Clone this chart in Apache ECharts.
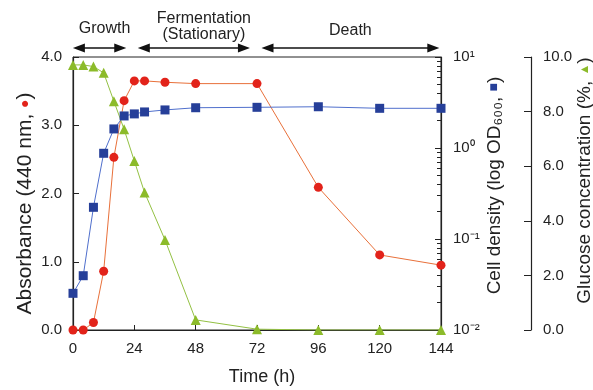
<!DOCTYPE html>
<html>
<head>
<meta charset="utf-8">
<script src="https://cdn.jsdelivr.net/npm/echarts@6/dist/echarts.min.js"></script>
<style>
  html, body { margin: 0; padding: 0; background: #fff; }
  #chart { width: 593px; height: 390px; }
</style>
</head>
<body>
<div id="chart"></div>
<script>
// sampling times (h)
const times = [0, 4, 8, 12, 16, 20, 24, 28, 36, 48, 72, 96, 120, 144];
// absorbance at 440 nm
const absorbance = [0, 0, 0.11, 0.86, 2.53, 3.36, 3.65, 3.65, 3.63, 3.61, 3.61, 2.09, 1.10, 0.95];
// cell density, OD600 (log axis)
const cellDensity = [0.0253, 0.0395, 0.223, 0.875, 1.62, 2.25, 2.37, 2.49, 2.62, 2.77, 2.80, 2.84, 2.73, 2.73];
// glucose concentration (%)
const glucose = [9.71, 9.71, 9.65, 9.42, 8.38, 7.35, 6.19, 5.04, 3.30, 0.37, 0.03, 0, 0, 0];
// culture phases along the time axis (arrow ends, h)
const phaseNames = ['Growth', 'Fermentation\n(Stationary)', 'Death'];
const phaseStart = [2.3, 27.7, 76.1];
const phaseEnd = [18.5, 66.9, 141];

const FONT = 'Liberation Sans, Arial, sans-serif';
const RED = '#e2231a', RED_LINE = '#e8703a';
const BLUE = '#263f99', BLUE_LINE = '#4f6fcc';
const GREEN = '#8cbb2a', GREEN_LINE = '#93c043';

const sup = { '-2': '10⁻²', '-1': '10⁻¹', '0': '10⁰', '1': '10¹' };
const minorTicks = [];
for (let n = -2; n < 1; n++) {
    for (let k = 2; k <= 9; k++) minorTicks.push(Math.log10(k) + n);
}

const zip = (ys) => times.map((t, i) => [t, ys[i]]);
const tickStyle = { color: '#222', fontSize: 15, fontFamily: FONT };
const axisLine = { show: true, lineStyle: { color: '#222', width: 1.2 } };
const titleStyle = (size, markColor, markSize, padding) => ({
    padding,
    rich: {
        t: { fontSize: size, color: '#222', fontFamily: FONT },
        m: { fontSize: markSize, color: markColor, fontFamily: FONT }
    }
});

const mChart = echarts.init(document.getElementById('chart'), null, { renderer: 'canvas' });

const option = {
    animation: false,
    grid: [
        { left: 73, top: 57, width: 368, height: 273, outerBoundsMode: 'none', containLabel: false, show: true, borderColor: '#222', borderWidth: 1, backgroundColor: 'transparent' },
        { left: 73, top: 40, width: 368, height: 16, outerBoundsMode: 'none', containLabel: false }
    ],
    xAxis: [
        {
            gridIndex: 0, type: 'value', min: 0, max: 144, interval: 24,
            axisLine,
            axisTick: { inside: true, length: 5, lineStyle: { color: '#222' } },
            axisLabel: { ...tickStyle, margin: 11 },
            splitLine: { show: false },
            name: 'Time (h)', nameLocation: 'middle', nameGap: 38,
            nameTextStyle: { color: '#222', fontSize: 18, fontFamily: FONT, padding: [0, 0, 0, 10] }
        },
        { gridIndex: 1, type: 'value', min: 0, max: 144, show: false }
    ],
    yAxis: [
        {
            gridIndex: 0, type: 'value', position: 'left', min: 0, max: 4, interval: 1,
            axisLine,
            axisTick: { inside: true, length: 6, lineStyle: { color: '#222' } },
            axisLabel: { ...tickStyle, margin: 11, formatter: v => v.toFixed(1) },
            splitLine: { show: false },
            name: '{t|Absorbance (440 nm, }{m|●}{t|)}',
            nameLocation: 'middle', nameRotate: 90, nameGap: 37, nameMoveOverlap: false,
            nameTextStyle: titleStyle(21, RED, 14, [0, 20, 0, 0])
        },
        {
            gridIndex: 0, type: 'log', logBase: 10, position: 'right', min: 0.01, max: 10,
            axisLine,
            axisTick: { inside: true, length: 6, lineStyle: { color: '#222' } },
            axisLabel: { ...tickStyle, margin: 12, formatter: v => sup[String(Math.round(Math.log10(v)))] },
            splitLine: { show: false },
            name: '{t|Cell density (log OD₆₀₀, }{m|■}{t|)}',
            nameLocation: 'middle', nameRotate: 90, nameGap: 44, nameMoveOverlap: false,
            nameTextStyle: titleStyle(19, BLUE, 14, [0, 0, 0, 16])
        },
        {
            // minor log ticks (decade subdivisions) drawn in log10 space
            gridIndex: 0, type: 'value', position: 'right', min: -2, max: 1,
            axisLine: { show: true, lineStyle: { color: 'rgba(0,0,0,0)' } },
            axisTick: { show: true, inside: true, length: 4, customValues: minorTicks, lineStyle: { color: '#222' } },
            axisLabel: { show: false },
            splitLine: { show: false }
        },
        {
            gridIndex: 0, type: 'value', position: 'right', offset: 90, min: 0, max: 10, interval: 2,
            axisLine,
            axisTick: { inside: true, length: 7, lineStyle: { color: '#222' } },
            axisLabel: { ...tickStyle, margin: 12, formatter: v => v.toFixed(1) },
            splitLine: { show: false },
            name: '{t|Glucose concentration (%, }{m|▲}{t|)}',
            nameLocation: 'middle', nameRotate: 90, nameGap: 44, nameMoveOverlap: false,
            nameTextStyle: titleStyle(19, GREEN, 12, [0, 0, 0, 26])
        },
        { gridIndex: 1, type: 'value', min: 0, max: 1, show: false }
    ],
    series: [
        {
            name: 'Absorbance', type: 'line', xAxisIndex: 0, yAxisIndex: 0,
            data: zip(absorbance),
            symbol: 'circle', symbolSize: 9,
            itemStyle: { color: RED },
            lineStyle: { color: RED_LINE, width: 1 }
        },
        {
            name: 'Cell density', type: 'line', xAxisIndex: 0, yAxisIndex: 1,
            data: zip(cellDensity),
            symbol: 'rect', symbolSize: 9,
            itemStyle: { color: BLUE },
            lineStyle: { color: BLUE_LINE, width: 1 }
        },
        {
            name: 'Glucose', type: 'line', xAxisIndex: 0, yAxisIndex: 3,
            data: zip(glucose),
            symbol: 'triangle', symbolSize: 10,
            itemStyle: { color: GREEN },
            lineStyle: { color: GREEN_LINE, width: 1 }
        },
        {
            name: 'Phases', type: 'line', xAxisIndex: 1, yAxisIndex: 4,
            data: [],
            markLine: {
                silent: true,
                symbol: ['triangle', 'triangle'],
                symbolSize: [9, 12],
                lineStyle: { color: '#111', width: 1.5, type: 'solid' },
                label: {
                    show: true, position: 'insideMiddleTop', formatter: '{b}',
                    color: '#222', fontSize: 16, fontFamily: FONT, lineHeight: 16
                },
                data: phaseNames.map((name, i) => [
                    {
                        name, coord: [phaseStart[i], 0.5],
                        label: { distance: [11, 5, 9][i], padding: [[0, 0, 0, 10], [0, 0, 0, 20], [0, 0, 0, 0]][i] }
                    },
                    { coord: [phaseEnd[i], 0.5] }
                ])
            }
        }
    ]
};

mChart.setOption(option);
</script>
</body>
</html>
